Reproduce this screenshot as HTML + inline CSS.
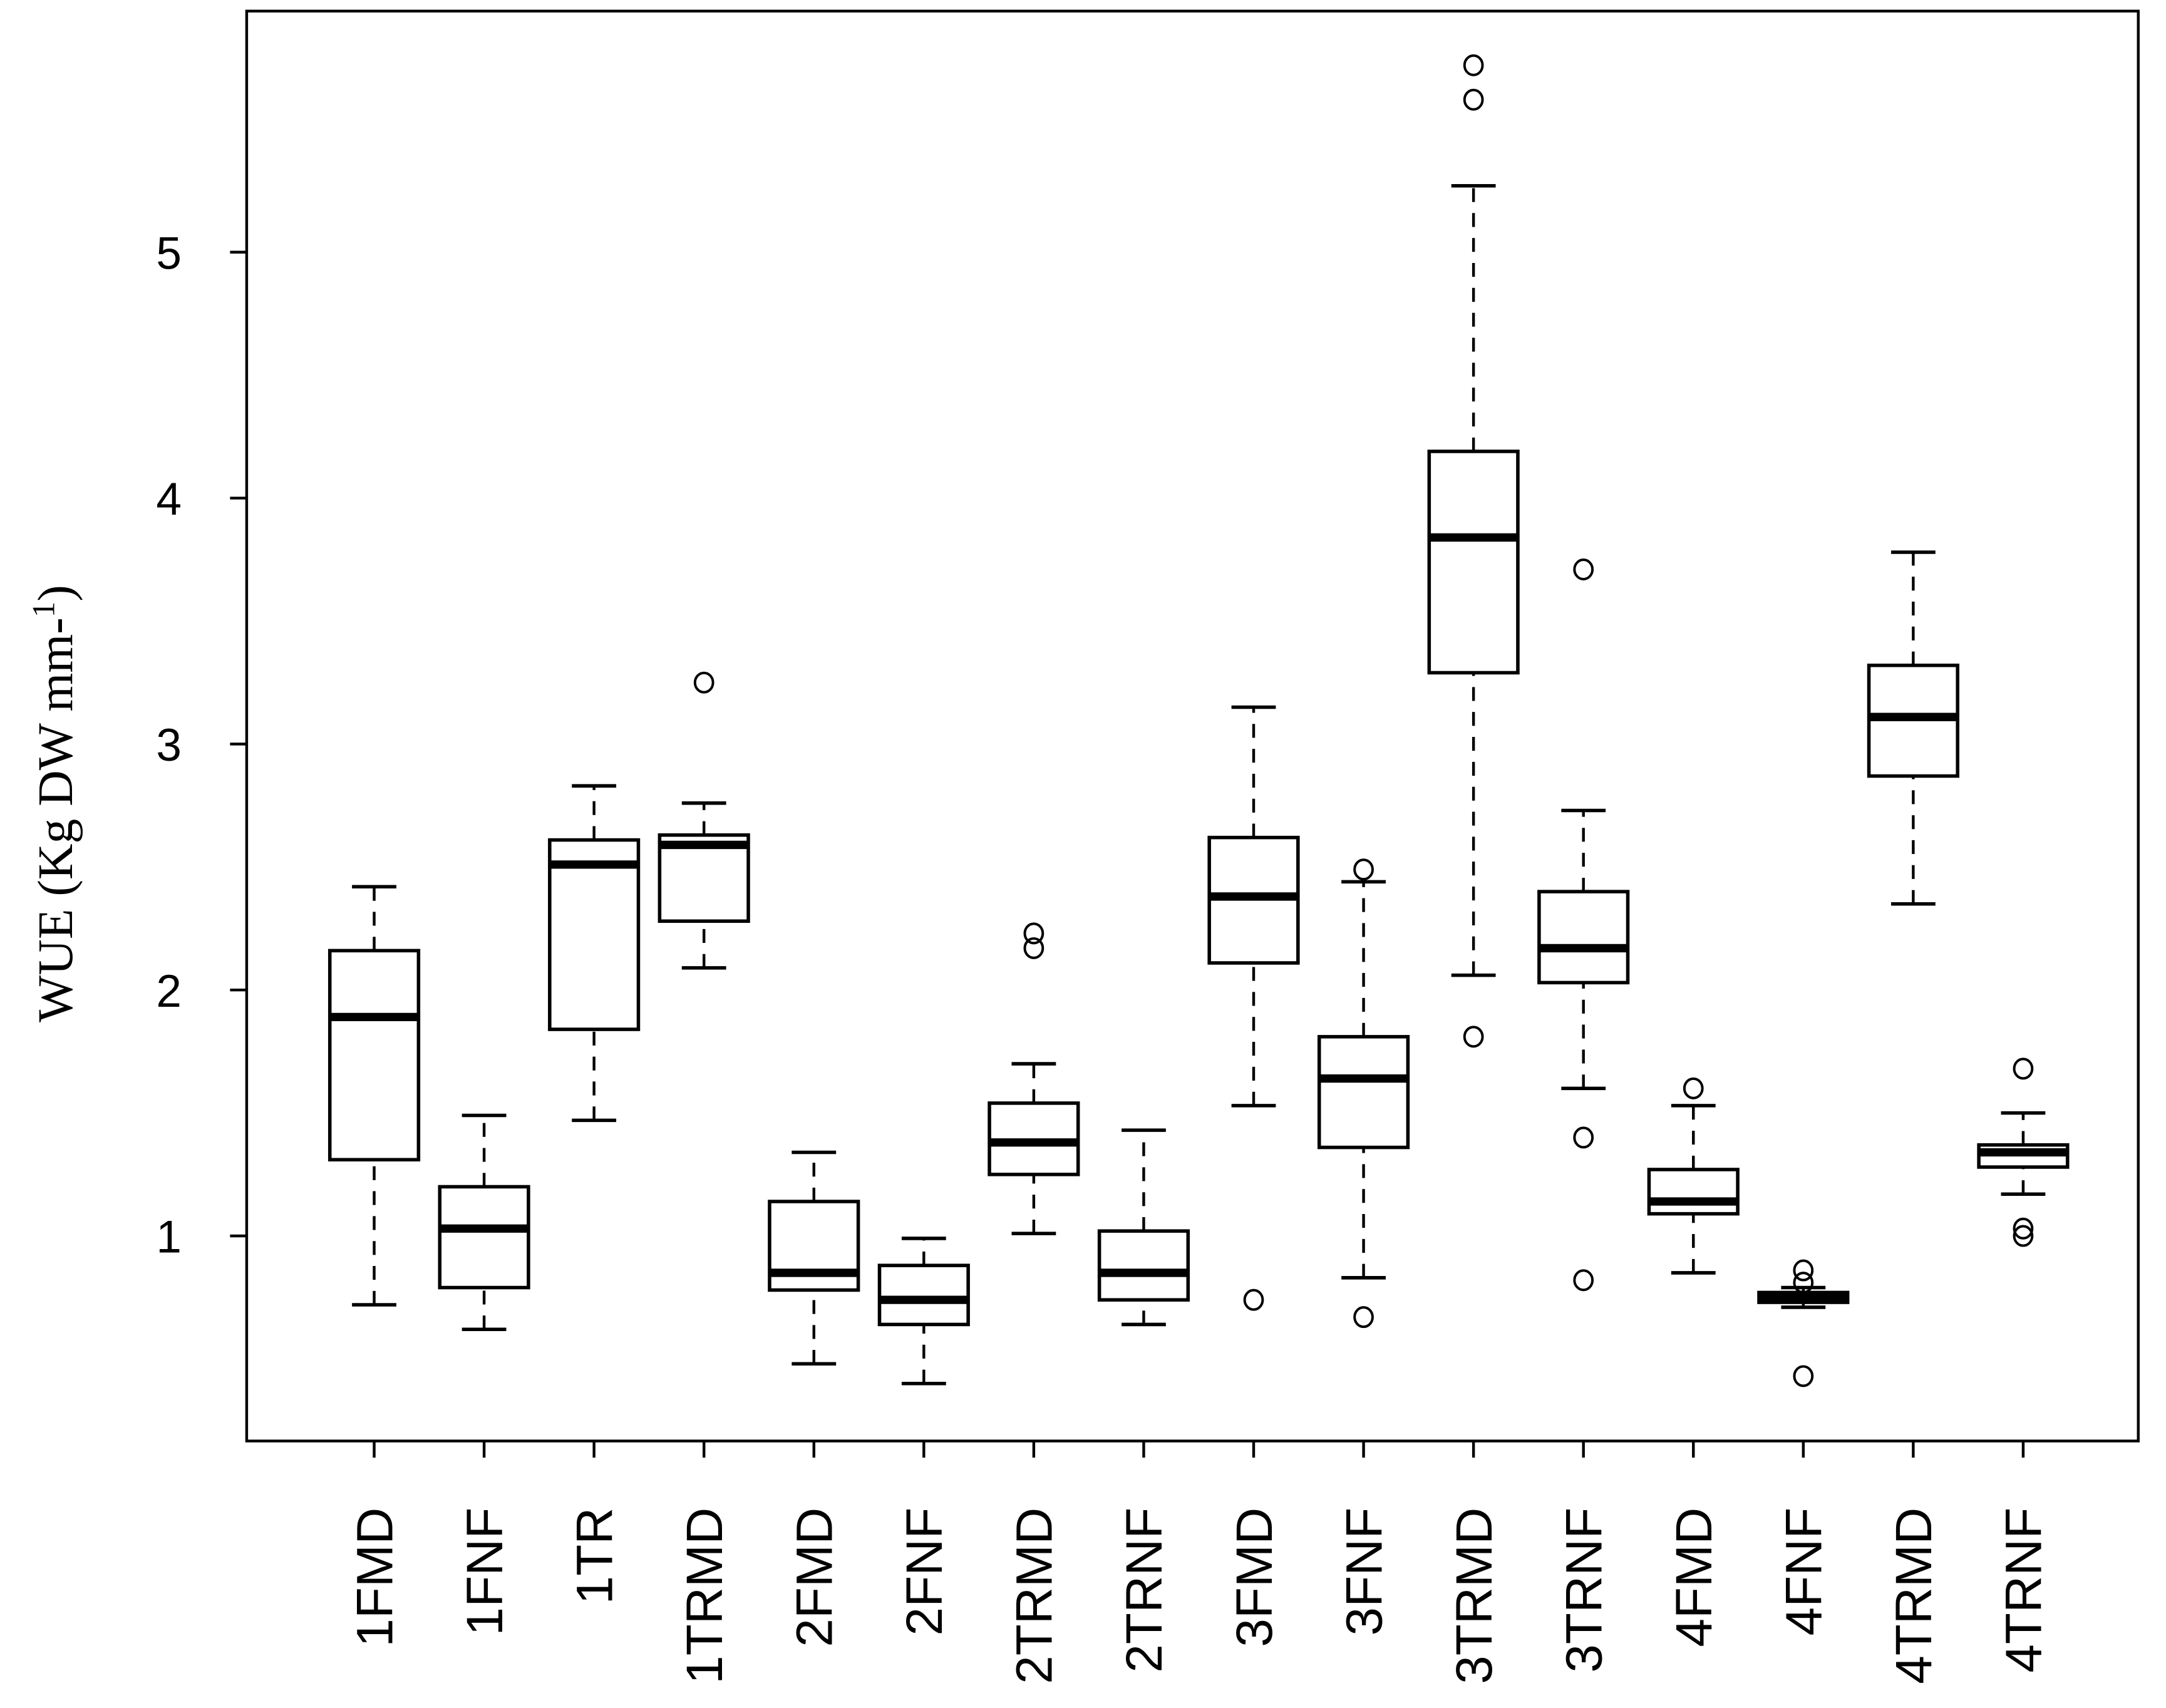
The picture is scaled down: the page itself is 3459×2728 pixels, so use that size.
<!DOCTYPE html>
<html><head><meta charset="utf-8"><style>html,body{margin:0;padding:0;background:#fff}svg{display:block}</style></head>
<body>
<svg id="chart" xmlns="http://www.w3.org/2000/svg" width="3459" height="2728" viewBox="0 0 1563 1232.7">
<rect x="0" y="0" width="1563" height="1233" fill="#fff"/>
<g id="plot"></g>
</svg>
<script>
const categories = ["1FMD","1FNF","1TR","1TRMD","2FMD","2FNF","2TRMD","2TRNF","3FMD","3FNF","3TRMD","3TRNF","4FMD","4FNF","4TRMD","4TRNF"];
const whiskerLow = [0.72,0.62,1.47,2.09,0.48,0.40,1.01,0.64,1.53,0.83,2.06,1.60,0.85,0.71,2.35,1.17];
const q1 =        [1.31,0.79,1.84,2.28,0.78,0.64,1.25,0.74,2.11,1.36,3.29,2.03,1.09,0.73,2.87,1.28];
const medians =   [1.89,1.03,2.51,2.59,0.85,0.74,1.38,0.85,2.38,1.64,3.84,2.17,1.14,0.75,3.11,1.34];
const q3 =        [2.16,1.20,2.61,2.63,1.14,0.88,1.54,1.02,2.62,1.81,4.19,2.40,1.27,0.77,3.32,1.37];
const whiskerHigh=[2.42,1.49,2.83,2.76,1.34,0.99,1.70,1.43,3.15,2.44,5.27,2.73,1.53,0.79,3.78,1.50];
const outliers = [[],[],[],[3.25],[],[],[2.17,2.23],[],[0.74],[0.67,2.49],[1.81,5.62,5.76],[3.71,1.40,0.82],[1.60],[0.86,0.81,0.43],[],[1.68,1.03,1.00]];
const yTicks = [1,2,3,4,5];

const NS="http://www.w3.org/2000/svg";
const g=document.getElementById('plot');
const L=178,R=1543,T=8,B=1040;
const y=v=>892-(v-1)*177.5;
const x=i=>270+79.33*i;
function mk(tag,attrs,parent){const e=document.createElementNS(NS,tag);for(const k in attrs)e.setAttribute(k,attrs[k]);(parent||g).appendChild(e);return e;}

let frame=mk('rect',{x:L,y:T,width:R-L,height:B-T,fill:'none',stroke:'#000','stroke-width':2});



yTicks.forEach(t=>{
  let tk=mk('line',{x1:L-12,x2:L,y1:y(t),y2:y(t),stroke:'#000','stroke-width':2});
  
  
  let tx=mk('text',{x:131,y:y(t)+12,'text-anchor':'end','font-family':'Liberation Sans, sans-serif','font-size':33});
  tx.textContent=t;
  
  
});

const yl=mk('text',{transform:'translate(52,580) rotate(-90)','text-anchor':'middle','font-family':'Liberation Serif, serif','font-size':36});


yl.appendChild(document.createTextNode('WUE (Kg DW mm-'));
const sup=mk('tspan',{'font-size':23,dy:-13},yl);sup.textContent='1';
const cl=mk('tspan',{dy:13},yl);cl.textContent=')';

categories.forEach((c,i)=>{
  const cx=x(i),hw=32,cw=16;
  const grp=mk('g',{});
  
  
  mk('line',{x1:cx,x2:cx,y1:y(whiskerLow[i]),y2:y(q1[i]),stroke:'#000','stroke-width':2,'stroke-dasharray':'10,8'},grp);
  mk('line',{x1:cx,x2:cx,y1:y(q3[i]),y2:y(whiskerHigh[i]),stroke:'#000','stroke-width':2,'stroke-dasharray':'10,8'},grp);
  mk('line',{x1:cx-cw,x2:cx+cw,y1:y(whiskerLow[i]),y2:y(whiskerLow[i]),stroke:'#000','stroke-width':2.5},grp);
  mk('line',{x1:cx-cw,x2:cx+cw,y1:y(whiskerHigh[i]),y2:y(whiskerHigh[i]),stroke:'#000','stroke-width':2.5},grp);
  mk('rect',{x:cx-hw,y:y(q3[i]),width:2*hw,height:y(q1[i])-y(q3[i]),fill:'#fff',stroke:'#000','stroke-width':2.5},grp);
  mk('line',{x1:cx-hw,x2:cx+hw,y1:y(medians[i]),y2:y(medians[i]),stroke:'#000','stroke-width':6},grp);
  outliers[i].forEach(o=>{
    const p=mk('ellipse',{cx:cx,cy:y(o),rx:6.5,ry:7,fill:'none',stroke:'#000','stroke-width':1.8},grp);
    
    
  });
  const tk=mk('line',{x1:cx,x2:cx,y1:B,y2:B+12,stroke:'#000','stroke-width':2});
  
  
  const lb=mk('text',{transform:`translate(${cx+13},1088) rotate(-90)`,'text-anchor':'end','font-family':'Liberation Sans, sans-serif','font-size':37});
  lb.textContent=c;
  
  
});
</script>
</body></html>
